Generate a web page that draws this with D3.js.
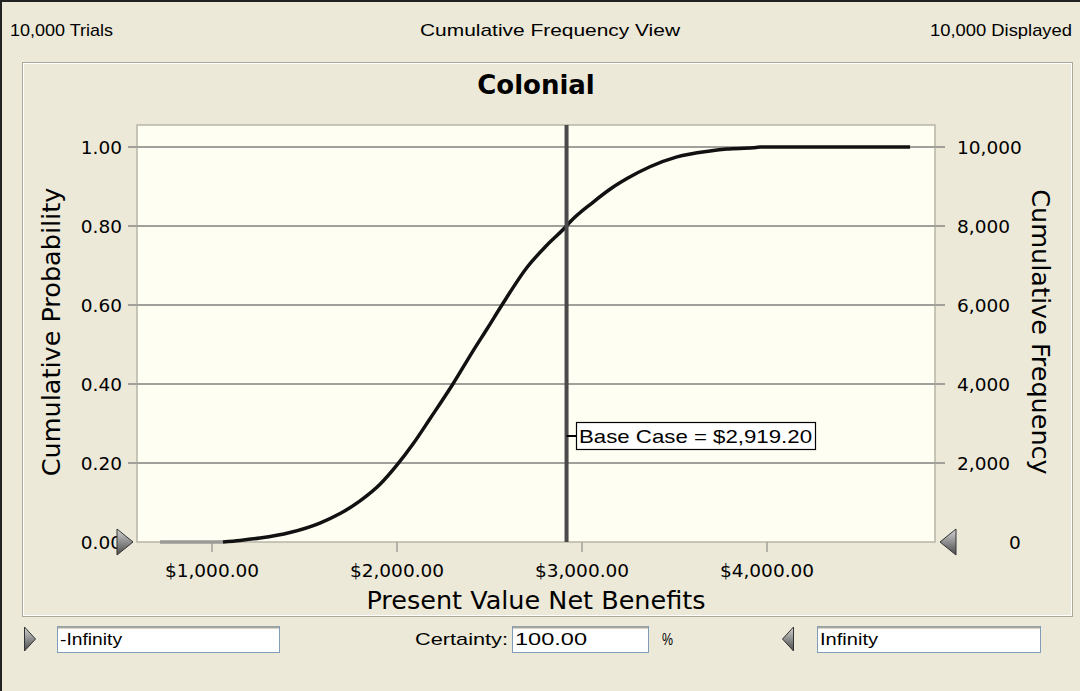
<!DOCTYPE html>
<html><head><meta charset="utf-8">
<script src="https://cdn.jsdelivr.net/npm/d3@7"></script>
<style>
html,body{margin:0;padding:0;background:#ECE9D8;}
svg{display:block;font-family:"DejaVu Sans",Verdana,sans-serif;}
</style></head>
<body>
<svg id="c" width="1080" height="691"></svg>
<script>
// ---- data ----
const netBenefit = [722, 1062, 1154, 1262, 1424, 1586, 1695, 1803, 1911, 2003, 2089, 2181, 2305, 2414, 2490, 2570, 2705, 2814, 2919, 2938, 3062, 3154, 3246, 3370, 3516, 3695, 3786, 3927, 3965, 4776];
const cumProb    = [0, 0, 0.004, 0.010, 0.024, 0.048, 0.072, 0.104, 0.146, 0.195, 0.248, 0.312, 0.400, 0.484, 0.540, 0.600, 0.695, 0.752, 0.800, 0.810, 0.860, 0.893, 0.920, 0.950, 0.975, 0.990, 0.995, 0.998, 1.0, 1.0];
const xTicks = [1000, 2000, 3000, 4000];
const probTicks = [0, 0.2, 0.4, 0.6, 0.8, 1.0];
const freqTicks = [0, 2000, 4000, 6000, 8000, 10000];
const baseCase = 2919.20;
const trials = 10000;
const displayed = 10000;
const certainty = 100;

const svg = d3.select("#c");
const L = 137, R = 935, T = 125, B = 542;
const x = d3.scaleLinear().domain([1000, 4000]).range([211.5, 766.5]);
const y = d3.scaleLinear().domain([0, 1]).range([542, 147]);
const yF = d3.scaleLinear().domain([0, trials]).range([542, 147]);
const UI = "Liberation Sans, Arial, sans-serif";

// window border
svg.append("line").attr("x1",0).attr("x2",1080).attr("y1",1).attr("y2",1).attr("stroke","#222").attr("stroke-width",2);
svg.append("line").attr("x1",1).attr("x2",1).attr("y1",0).attr("y2",691).attr("stroke","#222").attr("stroke-width",2);

// header texts
function uiText(xp, yp, txt, len, anchor){
  return svg.append("text").attr("x",xp).attr("y",yp).attr("font-family",UI).attr("font-size",17)
    .attr("text-anchor",anchor||"start").attr("textLength",len).attr("lengthAdjust","spacingAndGlyphs").text(txt);
}
uiText(10, 36, d3.format(",")(trials) + " Trials", 103);
uiText(550, 36, "Cumulative Frequency View", 260, "middle");
uiText(1072, 36, d3.format(",")(displayed) + " Displayed", 142, "end");

// chart panel (sunken)
svg.append("rect").attr("x",22.5).attr("y",62.5).attr("width",1050).attr("height",554).attr("fill","none").attr("stroke","#ACA899");
svg.append("rect").attr("x",23.5).attr("y",63.5).attr("width",1048).attr("height",552).attr("fill","none").attr("stroke","#fff");

// title
svg.append("text").attr("x",536).attr("y",94).attr("text-anchor","middle").attr("font-size",26).attr("font-weight","bold").text("Colonial");

// plot area
svg.append("rect").attr("x",L).attr("y",T).attr("width",R-L).attr("height",B-T).attr("fill","#FEFEF2").attr("stroke","#B8B5A6").attr("stroke-width",1.5);

// gridlines
const grid = svg.append("g");
probTicks.filter(d=>d>0).forEach(d=>{
  grid.append("line").attr("x1",128).attr("x2",945).attr("y1",y(d)).attr("y2",y(d)).attr("stroke","#A2A09A").attr("stroke-width",2);
});
// left axis
const yAxisL = d3.axisLeft(y).tickValues(probTicks).tickFormat(d3.format(".2f")).tickSize(0).tickPadding(15);
const gl = svg.append("g").attr("transform",`translate(${L},0)`).call(yAxisL);
gl.select(".domain").remove();
gl.selectAll("text").attr("font-size",18.5).attr("font-family","DejaVu Sans, sans-serif").attr("fill","#000").attr("dy","0.36em");
// right axis
const yAxisR = d3.axisRight(yF).tickValues(freqTicks).tickFormat(d3.format(",")).tickSize(0).tickPadding(22);
const gr = svg.append("g").attr("transform",`translate(${R},0)`).call(yAxisR);
gr.select(".domain").remove();
gr.selectAll("text").attr("font-size",18.5).attr("font-family","DejaVu Sans, sans-serif").attr("fill","#000").attr("dy","0.36em")
  .attr("text-anchor", d=>d===0?"middle":"start").attr("x", d=>d===0?80:22);
// x axis
const xAxis = d3.axisBottom(x).tickValues(xTicks).tickFormat(d=>"$"+d3.format(",.2f")(d)).tickSize(10).tickPadding(12);
const gx = svg.append("g").attr("transform",`translate(0,${B})`).call(xAxis);
gx.select(".domain").remove();
gx.selectAll("line").attr("stroke","#A2A09A").attr("stroke-width",1.5);
gx.selectAll("text").attr("font-size",18.5).attr("font-family","DejaVu Sans, sans-serif").attr("fill","#000");

// axis titles
svg.append("text").attr("x",536).attr("y",609).attr("text-anchor","middle").attr("font-size",25.5).text("Present Value Net Benefits");
svg.append("text").attr("transform","translate(60,332) rotate(-90)").attr("text-anchor","middle").attr("font-size",25.5).text("Cumulative Probability");
svg.append("text").attr("transform","translate(1032,332) rotate(90)").attr("text-anchor","middle").attr("font-size",25.5).text("Cumulative Frequency");

// curve
const pts = netBenefit.map((v,i)=>({v, p: cumProb[i]}));
const line = d3.line().x(d=>x(d.v)).y(d=>y(d.p)).curve(d3.curveMonotoneX);
svg.append("path").datum(pts.slice(0,2)).attr("d",line).attr("fill","none").attr("stroke","#9a9a96").attr("stroke-width",3.5);
svg.append("path").datum(pts.slice(1)).attr("d",line).attr("fill","none").attr("stroke","#111").attr("stroke-width",3.5);

// base case line
svg.append("line").attr("x1",x(baseCase)).attr("x2",x(baseCase)).attr("y1",T).attr("y2",B).attr("stroke","#4a4a4a").attr("stroke-width",4);
const by = 436;
svg.append("line").attr("x1",x(baseCase)).attr("x2",x(baseCase)+12).attr("y1",by).attr("y2",by).attr("stroke","#000").attr("stroke-width",2);
svg.append("rect").attr("x",576.5).attr("y",422.5).attr("width",239).attr("height",27).attr("fill","#fff").attr("stroke","#000").attr("stroke-width",1.2);
svg.append("text").attr("x",579).attr("y",443).attr("font-family",UI).attr("font-size",19)
  .attr("textLength",233).attr("lengthAdjust","spacingAndGlyphs").text("Base Case = $" + d3.format(",.2f")(baseCase));

// grabbers (triangles)
const triGrad = svg.append("defs").append("linearGradient").attr("id","tg").attr("x1",0).attr("x2",0).attr("y1",0).attr("y2",1);
triGrad.append("stop").attr("offset","0%").attr("stop-color","#d4d4d4");
triGrad.append("stop").attr("offset","100%").attr("stop-color","#4a4a4a");
function tri(cx, cy, dir, w, h){
  const p = dir>0 ? [[cx-w/2,cy-h/2],[cx+w/2,cy],[cx-w/2,cy+h/2]] : [[cx+w/2,cy-h/2],[cx-w/2,cy],[cx+w/2,cy+h/2]];
  svg.append("path").attr("d","M"+p.join("L")+"Z").attr("fill","url(#tg)").attr("stroke","#333").attr("stroke-width",1);
}
tri(125, y(0), 1, 16, 26);
tri(948, y(0), -1, 16, 26);
tri(30, 639, 1, 11, 24);
tri(788, 639, -1, 11, 24);

// bottom controls
function box(x0, w, txt, len){
  svg.append("rect").attr("x",x0+0.5).attr("y",626.5).attr("width",w).attr("height",26).attr("fill","#fff").attr("stroke","#7f9db9");
  svg.append("line").attr("x1",x0+1).attr("x2",x0+w).attr("y1",627.5).attr("y2",627.5).attr("stroke","#ACA899").attr("stroke-width",2);
  uiText(x0+3, 645, txt, len);
}
box(57, 222, "-Infinity", 62);
box(512, 136, d3.format(".2f")(certainty), 72);
box(817, 223, "Infinity", 58);
uiText(508, 645, "Certainty:", 93, "end");
uiText(662, 645, "%", 11);
</script>
</body></html>
